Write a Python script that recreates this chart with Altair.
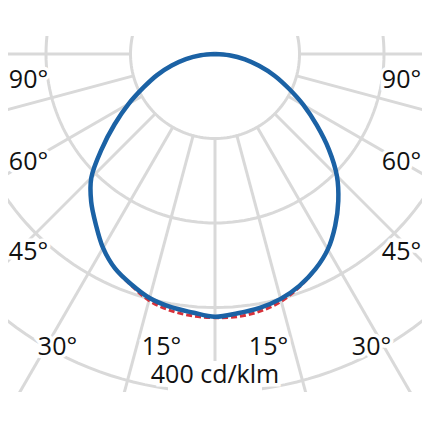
import altair as alt
import pandas as pd

# ---------------- data (cd/klm) ----------------
ANGLES = [0, 5, 10, 15, 20, 25, 30, 35, 40, 45, 50, 55, 60, 65, 70, 75, 80, 85, 90]
C0 = [311, 308, 305, 300, 292, 281, 267, 248, 227, 204, 176, 147, 121, 96, 75, 54, 36, 17, 0]
C180 = [311, 307, 304, 299, 290, 280, 265, 246, 228, 207, 175, 145, 118, 93, 73, 53, 35, 17, 0]
C90 = [312, 312, 309, 303, 293, 281, 267, 248, 227, 204, 176, 147, 121, 96, 75, 54, 36, 17, 0]
C270 = [312, 311, 308, 302, 291, 280, 265, 246, 228, 207, 175, 145, 118, 93, 73, 53, 35, 17, 0]

GRID_RADII = [100, 200, 300, 400]
RAY_ANGLES = [-90, -75, -60, -45, -30, -15, 0, 15, 30, 45, 60, 75, 90]
TICK_LABELS = ["90°", "60°", "45°", "30°", "15°", "15°", "30°", "45°", "60°", "90°"]
UNIT_LABEL = "400 cd/klm"

# ---------------- layout ----------------
PX = 0.845          # pixels per cd/klm
CX, CY = 215, 54    # pole position on the page
def ux(px):
    return (px - CX) / PX
def uy(py):
    return (CY - py) / PX

LABEL_POS = [(28.5, 88), (28.5, 170), (28.5, 260), (57.5, 355), (161.5, 355),
             (268.5, 355), (371.5, 355), (401.5, 260), (401.5, 170), (401.5, 88)]
UNIT_POS = (215, 383)
UNIT_BOX = (168, 361, 262, 396)

GRID = "#d9d9d9"
BLUE = "#1b62a5"
RED = "#d7313a"
FONT = "Open Sans"

xs = alt.Scale(domain=[ux(8), ux(422)], nice=False, zero=False)
ys = alt.Scale(domain=[uy(392), uy(36)], nice=False, zero=False)

# ---------------- tables ----------------
curves = []
for a, v in zip(ANGLES, C0):
    curves.append({"plane": "C0-C180", "a": a, "I": v})
for a, v in zip(ANGLES, C180):
    if a != 0:
        curves.append({"plane": "C0-C180", "a": -a, "I": v})
for a, v in zip(ANGLES, C90):
    curves.append({"plane": "C90-C270", "a": a, "I": v})
for a, v in zip(ANGLES, C270):
    if a != 0:
        curves.append({"plane": "C90-C270", "a": -a, "I": v})
curves = pd.DataFrame(curves)

circles = pd.DataFrame([{"r": r, "t": t} for r in GRID_RADII for t in range(0, 362, 2)])
rays = pd.DataFrame({"a": RAY_ANGLES, "r0": 100, "r1": 700})

labels = pd.DataFrame({
    "text": TICK_LABELS + [UNIT_LABEL],
    "x": [ux(p[0]) for p in LABEL_POS] + [ux(UNIT_POS[0])],
    "y": [uy(p[1]) for p in LABEL_POS] + [uy(UNIT_POS[1])],
})
box = pd.DataFrame({"x": [ux(UNIT_BOX[0])], "x2": [ux(UNIT_BOX[2])],
                    "y": [uy(UNIT_BOX[1])], "y2": [uy(UNIT_BOX[3])]})

X = lambda f: alt.X(f, scale=xs, axis=None)
Y = lambda f: alt.Y(f, scale=ys, axis=None)

circle_layer = alt.Chart(circles).transform_calculate(
    x="datum.r*sin(datum.t*PI/180)", y="datum.r*cos(datum.t*PI/180)"
).mark_line(color=GRID, strokeWidth=3, clip=True).encode(
    x=X("x:Q"), y=Y("y:Q"), detail="r:N", order="t:Q")

ray_layer = alt.Chart(rays).transform_calculate(
    x="datum.r0*sin(datum.a*PI/180)", y="-datum.r0*cos(datum.a*PI/180)",
    x2="datum.r1*sin(datum.a*PI/180)", y2="-datum.r1*cos(datum.a*PI/180)"
).mark_rule(color=GRID, strokeWidth=3, clip=True).encode(
    x=X("x:Q"), y=Y("y:Q"), x2="x2:Q", y2="y2:Q")

base_curve = alt.Chart(curves).transform_calculate(
    x="datum.I*sin(datum.a*PI/180)", y="-datum.I*cos(datum.a*PI/180)")

red_layer = base_curve.transform_filter("datum.plane == 'C90-C270'").mark_line(
    color=RED, strokeWidth=3, strokeDash=[6, 3], interpolate="catmull-rom", clip=True
).encode(x=X("x:Q"), y=Y("y:Q"), order="a:Q")

blue_layer = base_curve.transform_filter("datum.plane == 'C0-C180'").mark_line(
    color=BLUE, strokeWidth=4.5, interpolate="catmull-rom", clip=True
).encode(x=X("x:Q"), y=Y("y:Q"), order="a:Q")

box_layer = alt.Chart(box).mark_rect(color="white").encode(
    x=X("x:Q"), x2="x2:Q", y=Y("y:Q"), y2="y2:Q")

halo_layer = alt.Chart(labels).mark_text(
    font=FONT, fontSize=25, align="center", baseline="alphabetic",
    color="white", stroke="white", strokeWidth=7
).encode(x=X("x:Q"), y=Y("y:Q"), text="text:N")

text_layer = alt.Chart(labels).mark_text(
    font=FONT, fontSize=25, align="center", baseline="alphabetic", color="#111111"
).encode(x=X("x:Q"), y=Y("y:Q"), text="text:N")

chart = alt.layer(
    circle_layer, ray_layer, red_layer, blue_layer, box_layer, halo_layer, text_layer
).properties(
    width=414, height=356, autosize="none",
    padding={"left": 0, "top": 28, "right": 0, "bottom": 0}
).configure_view(strokeWidth=0)

chart.save("out.html", embed_options={"renderer": "svg", "actions": False})
